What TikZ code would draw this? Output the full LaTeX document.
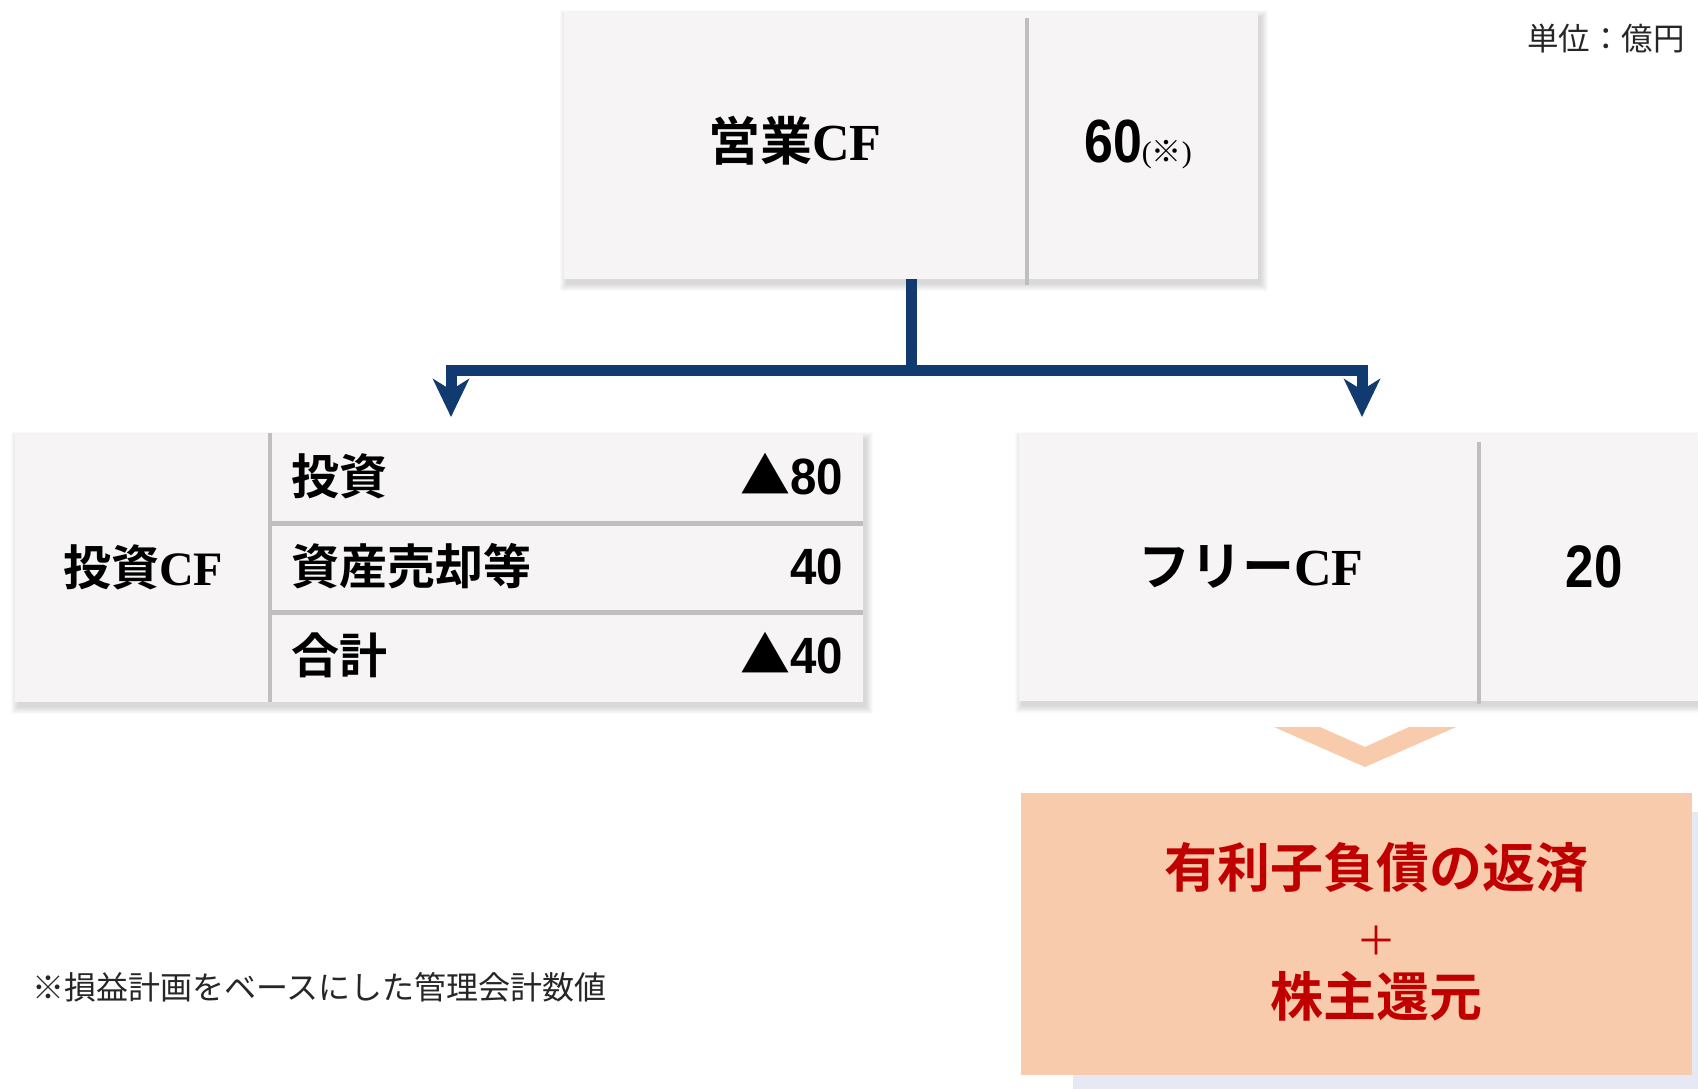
\documentclass[tikz,border=0pt]{standalone}
\usepackage{fontspec}
\usetikzlibrary{arrows.meta}
\newfontfamily\jpr{Noto Sans CJK JP}
\newfontfamily\jpb{Noto Sans CJK JP Bold}
\newfontfamily\numf[FakeStretch=0.85]{Liberation Sans Bold}
\newfontfamily\numg[FakeStretch=0.93]{Liberation Sans Bold}
\newfontfamily\serb{Liberation Serif Bold}
\newfontfamily\serr{Liberation Serif}
\definecolor{panelfill}{HTML}{F6F4F5}
\definecolor{divgray}{HTML}{BFBFBF}
\definecolor{navy}{HTML}{103A70}
\definecolor{peach}{HTML}{F7CBAC}
\definecolor{deepred}{HTML}{C00000}
\definecolor{shadebox}{HTML}{E6E9F3}
\newcommand\fsz[1]{\fontsize{#1}{#1}\selectfont}
\newcommand\softshade[4]{\foreach \r in {0,...,7}{\fill[black,opacity=0.018] (#1+3-\r,#2+6-\r) rectangle (#3+3+\r,#4+5+\r);}}
\tikzset{
  panel/.style={fill=panelfill, draw=none, inner sep=0pt},
  divider/.style={draw=divgray, line width=4.5pt},
  txt/.style={inner sep=0pt, anchor=base},
  conn/.style={draw=navy, line width=11pt, line join=miter,
    -{Stealth[length=38pt,width=36pt,inset=11pt]}},
}
\begin{document}
\begin{tikzpicture}[x=1pt,y=-1pt]
\useasboundingbox (0,0) rectangle (1698,1088);
\clip (0,0) rectangle (1698,1088);

% unit
\node[txt, anchor=base east, text=black!85] (unit) at (1685,50) {\jpr\fsz{31.5}単位：億円};

% top box
\softshade{564}{11}{1258}{279}
\node[panel, minimum width=694pt, minimum height=268pt] (opcf) at (911,145) {};
\draw[divider] (1027,18) -- (1027,285);
\node[txt] (opl) at (795,160) {\fsz{52}{\jpb 営業}{\serb CF}};
\node[txt] (opv) at (1138,162) {{\numf\fsz{61}60}{\fsz{30}\serr(\jpr ※\serr)}};

% left box
\softshade{15}{433}{863}{702}
\node[panel, minimum width=848pt, minimum height=269pt] (invcf) at (439,567.5) {};
\draw[divider] (270,433) -- (270,702);
\draw[divider, line width=5pt] (270,523) -- (863,523);
\draw[divider, line width=5pt] (270,612) -- (863,612);
\node[txt] (invl) at (143,585) {\fsz{48}{\jpb 投資}{\serb CF}};
\node[txt, anchor=base west] (r1l) at (291,494) {\jpb\fsz{48}投資};
\node[txt, anchor=base west] (r2l) at (291,584) {\jpb\fsz{48}資産売却等};
\node[txt, anchor=base west] (r3l) at (291,673) {\jpb\fsz{48}合計};
\node[txt, anchor=base east] (r1v) at (843,494) {{\jpb\fsz{50}▲}{\numg\fsz{51}80}};
\node[txt, anchor=base east] (r2v) at (843,584) {\numg\fsz{51}40};
\node[txt, anchor=base east] (r3v) at (843,673) {{\jpb\fsz{50}▲}{\numg\fsz{51}40}};

% right box
\softshade{1019}{433}{1720}{701}
\node[panel, minimum width=701pt, minimum height=268pt] (freecf) at (1369.5,567) {};
\draw[divider] (1479,442) -- (1479,704);
\node[txt] (freel) at (1251,585) {\fsz{52}{\jpb フリー}{\serb CF}};
\node[txt] (freev) at (1594,587) {\numf\fsz{60}20};

% connectors
\coordinate (jl) at (451,417);
\coordinate (jr) at (1362,417);
\draw[conn] (opcf.south) -- ++(0,91) coordinate (hub) -| (jl);
\draw[conn] (hub) -| (jr);

% chevron
\fill[peach] (1274,727) -- (1320,727) -- (1365,747) -- (1409,727) -- (1456,727) -- (1365,767) -- cycle;

% result box
\fill[shadebox] (1073,812) rectangle (1720,1100);
\node[fill=peach, draw=none, inner sep=0pt, minimum width=671pt, minimum height=282pt] (ret) at (1356.5,934) {};
\node[txt, text=deepred] (ret1) at (1376,887) {\jpb\fsz{53}有利子負債の返済};
\node[txt, text=deepred] (retp) at (1376,955) {\jpr\fsz{40}＋};
\node[txt, text=deepred] (ret2) at (1376,1016) {\jpb\fsz{53}株主還元};

% footnote
\node[txt, anchor=base west, text=black!85] (note) at (32,999) {\jpr\fsz{32}※損益計画をベースにした管理会計数値};
\end{tikzpicture}
\end{document}
